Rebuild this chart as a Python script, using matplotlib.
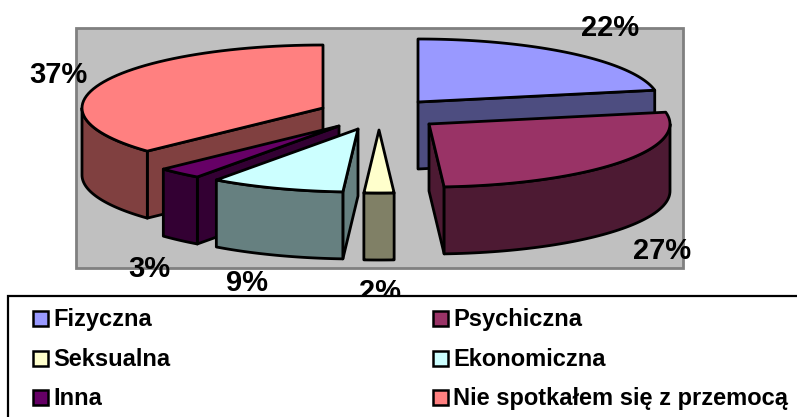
import numpy as np
import matplotlib
matplotlib.use("Agg")
import matplotlib.pyplot as plt
from matplotlib.patches import Polygon, Rectangle

IMAGE_FILE = "out.png"

categories = ["Fizyczna", "Psychiczna", "Seksualna", "Ekonomiczna", "Inna", "Nie spotkałem się z przemocą"]
percent = [22, 27, 2, 9, 3, 37]

top_colors = ["#9999FF", "#993366", "#FFFFCC", "#CCFFFF", "#660066", "#FF8080"]
side_colors = ["#4D4D80", "#4D1A33", "#808066", "#668080", "#330033", "#804040"]

# where the tip of each exploded slice sits, in pixels
apex = [(418, 102), (429, 124), (379, 130), (358, 129), (339, 126), (323, 108)]
label_pos = [(610, 28), (662, 251), (380, 292), (247, 283), (149, 269), (58, 75)]
# back to front
draw_order = [0, 5, 4, 3, 2, 1]

RX, RY, DEPTH = 241, 63, 67
LW = 2.0

plt.rcParams["font.family"] = ["Liberation Sans", "DejaVu Sans"]
plt.rcParams["font.weight"] = "bold"

fig = plt.figure(figsize=(7.97, 4.17), dpi=100)
ax = fig.add_axes([0, 0, 1, 1])
ax.set_xlim(0, 797)
ax.set_ylim(417, 0)
ax.axis("off")


def rim(c, a0, a1, n=60):
    # points on the ellipse, angle counted clockwise from 12 o'clock
    t = np.radians(np.linspace(a0, a1, n))
    return np.column_stack([c[0] + RX * np.sin(t), c[1] - RY * np.cos(t)])


def face(pts, color, z):
    ax.add_patch(Polygon(pts, closed=True, facecolor=color, edgecolor="black",
                         lw=LW, joinstyle="round", zorder=z))


ax.add_patch(Rectangle((76, 28), 607, 240, facecolor="#C0C0C0", edgecolor="#808080", lw=2, zorder=1))

edges = np.concatenate([[0], np.cumsum(percent)]) * 3.6
down = np.array([0, DEPTH])

for n, i in enumerate(draw_order):
    z = 2 + n * 0.1
    c = np.array(apex[i], dtype=float)
    a0, a1 = edges[i], edges[i + 1]
    arc = rim(c, a0, a1)

    # flat cut faces, only the ones turned towards the viewer
    if a0 > 180:
        face([c, arc[0], arc[0] + down, c + down], side_colors[i], z)
    if a1 < 180:
        face([c, arc[-1], arc[-1] + down, c + down], side_colors[i], z)

    # outer wall: only the part of the rim in the front half
    lo, hi = max(a0, 90), min(a1, 270)
    if hi > lo:
        wall = rim(c, lo, hi)
        face(np.vstack([wall, (wall + down)[::-1]]), side_colors[i], z)

    face(np.vstack([[c], arc]), top_colors[i], z + 0.05)
    ax.text(label_pos[i][0], label_pos[i][1], f"{percent[i]}%", fontsize=21, fontweight="bold",
            ha="center", va="center", zorder=5)

# legend box runs off the picture on the right and at the bottom
ax.add_patch(Rectangle((8, 296), 800, 140, facecolor="white", edgecolor="black", lw=1.6, zorder=6))

legend_x = [33, 433]
legend_y = [318, 358, 397]
for i, name in enumerate(categories):
    x = legend_x[i % 2]
    y = legend_y[i // 2]
    ax.add_patch(Rectangle((x, y - 7.5), 15, 15, facecolor=top_colors[i], edgecolor="black", lw=1.8, zorder=7))
    ax.text(x + 20, y + 1.5, name, fontsize=17, fontweight="bold", ha="left", va="center", zorder=7)

fig.savefig(IMAGE_FILE, dpi=100)
